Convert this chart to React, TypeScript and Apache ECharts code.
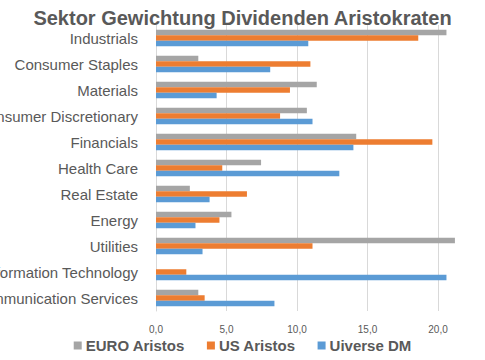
import React, { useEffect, useRef } from "react";
import * as echarts from "echarts";

const categories = [
  "Industrials",
  "Consumer Staples",
  "Materials",
  "Consumer Discretionary",
  "Financials",
  "Health Care",
  "Real Estate",
  "Energy",
  "Utilities",
  "Information Technology",
  "Communication Services",
];
const euroAristos = [20.6, 3.0, 11.4, 10.7, 14.2, 7.45, 2.4, 5.35, 21.2, 0, 3.0];
const usAristos = [18.6, 10.95, 9.5, 8.8, 19.6, 4.7, 6.45, 4.5, 11.1, 2.15, 3.45];
const universeDM = [10.8, 8.1, 4.3, 11.1, 14.0, 13.0, 3.8, 2.8, 3.3, 20.6, 8.4];
const seriesNames = ["EURO Aristos", "US Aristos", "Uiverse DM"];
const colors = ["#A5A5A5", "#ED7D31", "#5B9BD5"];

const OFFSET = 40;
const INNER_W = 565;

export default function App() {
  const ref = useRef<HTMLDivElement>(null);
  useEffect(() => {
    if (!ref.current) return;
    const chart = echarts.init(ref.current, undefined, { renderer: "svg" });
    const data = [euroAristos, usAristos, universeDM];
    chart.setOption({
      animation: false,
      textStyle: { fontFamily: "Liberation Sans" },
      title: {
        text: "Sektor Gewichtung Dividenden Aristokraten",
        left: "center",
        top: 3,
        textStyle: { fontSize: 20, fontWeight: "bold", color: "#595959", fontFamily: "Liberation Sans" },
      },
      legend: {
        data: seriesNames,
        left: "center",
        top: 333,
        icon: "rect",
        itemWidth: 8,
        itemHeight: 8,
        itemGap: 22,
        textStyle: { fontSize: 15, fontWeight: "bold", color: "#595959", padding: [0, 0, 0, -1] },
      },
      grid: { left: 196, right: 16.5, top: 25, bottom: 49 },
      xAxis: {
        type: "value",
        min: 0,
        max: 25,
        interval: 5,
        axisLine: { show: false },
        axisTick: { show: false },
        splitLine: { lineStyle: { color: "#D9D9D9", width: 1 } },
        axisLabel: {
          fontSize: 10,
          color: "#595959",
          margin: 13,
          formatter: (v: number) => v.toFixed(1).replace(".", ","),
        },
      },
      yAxis: {
        type: "category",
        data: categories,
        inverse: true,
        axisLine: { show: true, lineStyle: { color: "#D9D9D9" } },
        axisTick: { show: false },
        axisLabel: { fontSize: 15, color: "#595959", margin: 18 },
      },
      series: seriesNames.map((name, i) => ({
        name,
        type: "bar",
        data: data[i],
        barWidth: 5.5,
        barGap: "0%",
        itemStyle: { color: colors[i] },
      })),
    });
    return () => chart.dispose();
  }, []);
  return (
    <div style={{ position: "fixed", left: 0, top: 0, width: 485, height: 360, overflow: "hidden", background: "#fff" }}>
      <div ref={ref} style={{ position: "absolute", left: -OFFSET, top: 0, width: INNER_W, height: 360 }} />
    </div>
  );
}
